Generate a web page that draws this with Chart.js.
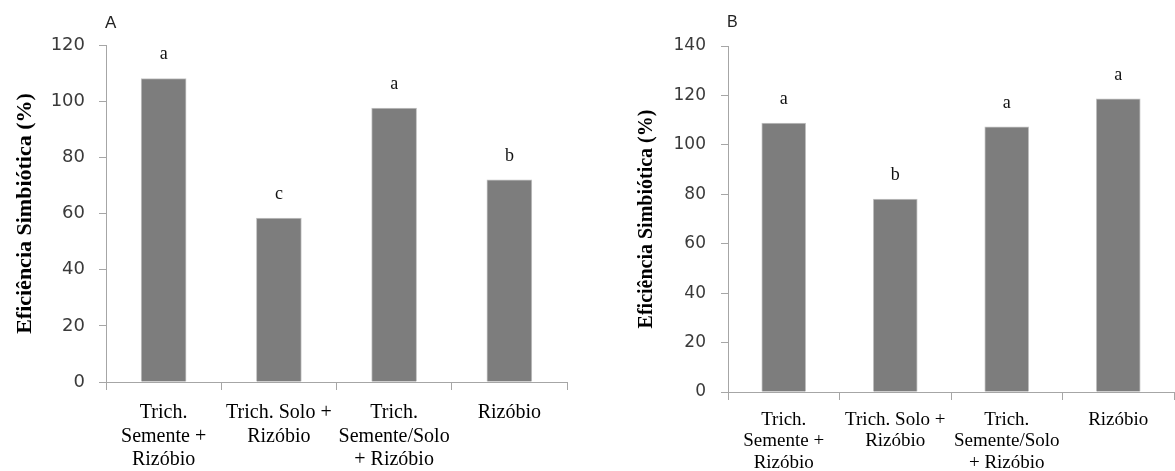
<!DOCTYPE html>
<html>
<head>
<meta charset="utf-8">
<script src="https://cdn.jsdelivr.net/npm/chart.js@4"></script>
<style>
  body { margin: 0; background: #fff; }
  #wrap { position: relative; width: 1175px; height: 471px; overflow: hidden; }
  canvas { position: absolute; top: 0; }
</style>
</head>
<body>
<div id="wrap">
  <canvas id="chartA" width="600" height="471" style="left:0"></canvas>
  <canvas id="chartB" width="575" height="471" style="left:600px"></canvas>
</div>
<script>
// --- DATA ---
const categories = [
  ['Trich.', 'Semente +', 'Rizóbio'],
  ['Trich. Solo +', 'Rizóbio'],
  ['Trich.', 'Semente/Solo', '+ Rizóbio'],
  'Rizóbio'
];
const valuesA = [108, 58.4, 97.5, 72];
const lettersA = ['a', 'c', 'a', 'b'];
const valuesB = [108.8, 78.1, 107.3, 118.6];
const lettersB = ['a', 'b', 'a', 'a'];
const yTitle = 'Eficiência Simbiótica (%)';

const axisColor = '#a6a6a6';
const barColor = '#7d7d7d';

// letters over the bars + panel tag
const lettersPlugin = {
  id: 'letters',
  afterDatasetsDraw(chart, args, opts) {
    const ctx = chart.ctx;
    const meta = chart.getDatasetMeta(0);
    ctx.save();
    ctx.fillStyle = '#111';
    ctx.font = opts.size + 'px "Liberation Serif", serif';
    ctx.textAlign = 'center';
    ctx.textBaseline = 'middle';
    meta.data.forEach((bar, i) => {
      ctx.fillText(opts.letters[i], bar.x, bar.y - 24);
    });
    // panel tag (A / B)
    ctx.font = opts.tagSize + 'px "Liberation Sans", Arial, sans-serif';
    ctx.textAlign = 'left';
    ctx.fillStyle = '#222';
    ctx.fillText(opts.tag, chart.chartArea.left - 1, 23);
    ctx.restore();
  }
};

function makeChart(id, cfg) {
  return new Chart(document.getElementById(id), {
    type: 'bar',
    data: {
      labels: categories,
      datasets: [{
        data: cfg.values,
        backgroundColor: barColor,
        borderColor: '#c4c4c4',
        borderWidth: 1,
        barThickness: cfg.barW
      }]
    },
    options: {
      responsive: false,
      animation: false,
      layout: { padding: { left: 0, top: cfg.top, right: cfg.right, bottom: 0 } },
      plugins: {
        legend: { display: false },
        tooltip: { enabled: false },
        letters: { letters: cfg.letters, tag: cfg.tag, size: 18, tagSize: cfg.tagSize }
      },
      scales: {
        x: {
          grid: { offset: true, drawOnChartArea: false, color: axisColor, tickLength: 8 },
          border: { color: axisColor },
          ticks: {
            color: '#000',
            padding: cfg.xPad,
            maxRotation: 0,
            autoSkip: false,
            font: { family: '"Liberation Serif", "Times New Roman", serif', size: cfg.xFont, lineHeight: cfg.xLine + 'px' }
          },
          afterFit(scale) { scale.height = cfg.xHeight; }
        },
        y: {
          min: 0,
          max: cfg.max,
          grid: { drawOnChartArea: false, color: axisColor, tickLength: 7 },
          border: { color: axisColor },
          ticks: {
            stepSize: 20,
            color: '#3a3a3a',
            padding: cfg.yPad,
            font: { family: '"DejaVu Sans", sans-serif', size: cfg.yFont }
          },
          title: {
            display: true,
            text: yTitle,
            color: '#000',
            padding: { top: cfg.titlePad, bottom: 0 },
            font: { family: '"Liberation Serif", "Times New Roman", serif', size: cfg.titleFont, weight: 'bold' }
          },
          afterFit(scale) { scale.width = cfg.yWidth; }
        }
      }
    },
    plugins: [lettersPlugin]
  });
}

makeChart('chartA', {
  values: valuesA, letters: lettersA, tag: 'A', tagSize: 17,
  max: 120, top: 45, right: 33, barW: 45,
  xHeight: 89, xPad: 11, xFont: 20, xLine: 23.5,
  yWidth: 106, yPad: 14, yFont: 18,
  titleFont: 22, titlePad: 12
});

makeChart('chartB', {
  values: valuesB, letters: lettersB, tag: 'B', tagSize: 16,
  max: 140, top: 46, right: 1, barW: 44,
  xHeight: 79, xPad: 9, xFont: 19, xLine: 21.5,
  yWidth: 128, yPad: 15, yFont: 17,
  titleFont: 20, titlePad: 35
});
</script>
</body>
</html>
